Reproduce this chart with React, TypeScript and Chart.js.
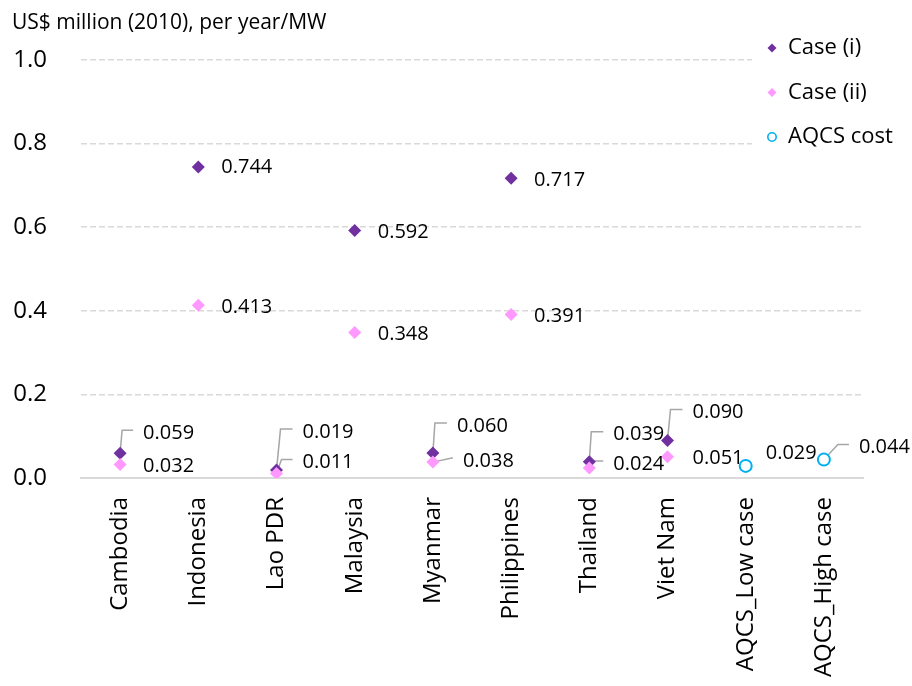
import React, { useEffect, useRef } from 'react';
import { Chart, registerables } from 'chart.js';

Chart.register(...registerables);

const categories = [
  'Cambodia',
  'Indonesia',
  'Lao PDR',
  'Malaysia',
  'Myanmar',
  'Philippines',
  'Thailand',
  'Viet Nam',
  'AQCS_Low case',
  'AQCS_High case',
];
const caseI = [0.059, 0.744, 0.019, 0.592, 0.06, 0.717, 0.039, 0.09, null, null];
const caseII = [0.032, 0.413, 0.011, 0.348, 0.038, 0.391, 0.024, 0.051, null, null];
const aqcsCost = [null, null, null, null, null, null, null, null, 0.029, 0.044];
const yTicks = [0, 0.2, 0.4, 0.6, 0.8, 1.0];
const seriesNames = ['Case (i)', 'Case (ii)', 'AQCS cost'];
const unitTitle = 'US$ million (2010), per year/MW';

// label placement (pixel offsets from the point): [dx, dy, leaderBend | null]
const placeI = [[23, -20, 2], [23, 0, null], [26, -38, 4], [23, 2, null], [24, -27, 2], [23, 2, null], [24, -27, 2], [25, -28, 3], null, null];
const placeII = [[23, 2, null], [23, 2, null], [26, -11, 5], [23, 2, null], [30, -1, 19], [23, 2, null], [24, -4, 2], [25, 2, null], null, null];
const placeAQCS = [null, null, null, null, null, null, null, null, [20, -13, null], [35, -12, 14]];
const placements = [placeI, placeII, placeAQCS];

const FONT = "'Open Sans', 'Noto Sans', sans-serif";
const PURPLE = '#7030A0';
const PINK = '#FF99FF';
const CYAN = '#00B0F0';

const labelPlugin = {
  id: 'valueLabels',
  beforeDatasetsDraw(chart: any) {
    const ctx = chart.ctx;
    ctx.save();
    ctx.strokeStyle = '#a6a6a6';
    ctx.lineWidth = 1.5;
    chart.data.datasets.forEach((ds: any, di: number) => {
      const meta = chart.getDatasetMeta(di);
      ds.data.forEach((v: any, i: number) => {
        const p = placements[di][i];
        if (v == null || !p || p[2] == null) return;
        const el = meta.data[i];
        const px = el.x, py = el.y;
        const lx = px + p[0], ly = py + p[1];
        ctx.beginPath();
        ctx.moveTo(px, py);
        ctx.lineTo(px + (p[2] as number), ly - 3);
        ctx.lineTo(lx - 10, ly - 3);
        ctx.stroke();
      });
    });
    ctx.restore();
  },
  afterDatasetsDraw(chart: any) {
    const ctx = chart.ctx;
    ctx.save();
    ctx.fillStyle = '#000';
    ctx.font = `20px ${FONT}`;
    ctx.textAlign = 'left';
    ctx.textBaseline = 'middle';
    chart.data.datasets.forEach((ds: any, di: number) => {
      const meta = chart.getDatasetMeta(di);
      ds.data.forEach((v: any, i: number) => {
        const p = placements[di][i];
        if (v == null || !p) return;
        const el = meta.data[i];
        ctx.fillText((v as number).toFixed(3), el.x + p[0], el.y + p[1]);
      });
    });
    ctx.restore();
  },
  afterDraw(chart: any) {
    const ctx = chart.ctx;
    ctx.save();
    // unit title
    ctx.fillStyle = '#000';
    ctx.font = `21px ${FONT}`;
    ctx.textAlign = 'left';
    ctx.textBaseline = 'alphabetic';
    ctx.fillText(unitTitle, 12, 29);
    // legend
    ctx.fillStyle = '#fff';
    ctx.fillRect(752, 26, 160, 132);
    const ys = [48, 92.5, 137];
    chart.data.datasets.forEach((ds: any, di: number) => {
      const x = 772, y = ys[di];
      ctx.beginPath();
      if (ds.pointStyle === 'rectRot') {
        const r = 4.5;
        ctx.moveTo(x - r, y);
        ctx.lineTo(x, y - r);
        ctx.lineTo(x + r, y);
        ctx.lineTo(x, y + r);
        ctx.closePath();
        ctx.fillStyle = ds.backgroundColor;
        ctx.fill();
      } else {
        ctx.arc(x, y, 4.2, 0, Math.PI * 2);
        ctx.fillStyle = '#fff';
        ctx.fill();
        ctx.lineWidth = 1.6;
        ctx.strokeStyle = ds.borderColor;
        ctx.stroke();
      }
      ctx.fillStyle = '#000';
      ctx.font = `22px ${FONT}`;
      ctx.textBaseline = 'middle';
      ctx.fillText(ds.label, 788, y);
    });
    ctx.restore();
  },
};

export default function App() {
  const ref = useRef<HTMLCanvasElement | null>(null);
  useEffect(() => {
    document.body.style.margin = '0';
    const chart = new Chart(ref.current as HTMLCanvasElement, {
      type: 'line',
      data: {
        labels: categories,
        datasets: [
          {
            label: seriesNames[0],
            data: caseI,
            showLine: false,
            pointStyle: 'rectRot',
            pointRadius: 6.5,
            backgroundColor: PURPLE,
            borderColor: PURPLE,
            borderWidth: 0,
            order: 1,
          },
          {
            label: seriesNames[1],
            data: caseII,
            showLine: false,
            pointStyle: 'rectRot',
            pointRadius: 6.5,
            backgroundColor: PINK,
            borderColor: PINK,
            borderWidth: 0,
            order: 0,
          },
          {
            label: seriesNames[2],
            data: aqcsCost,
            showLine: false,
            pointStyle: 'circle',
            pointRadius: 6,
            backgroundColor: '#fff',
            borderColor: CYAN,
            pointBorderWidth: 2,
            borderWidth: 2,
            order: 0,
          },
        ] as any,
      },
      options: {
        animation: false,
        responsive: true,
        maintainAspectRatio: false,
        layout: { padding: { top: 60, right: 49, left: 0, bottom: 0 } },
        plugins: { legend: { display: false }, tooltip: { enabled: false } },
        scales: {
          x: {
            type: 'category',
            offset: true,
            grid: { display: false, drawTicks: false },
            border: { display: true, color: '#d9d9d9', width: 2 },
            ticks: {
              autoSkip: false,
              minRotation: 90,
              maxRotation: 90,
              padding: 19,
              color: '#000',
              font: { family: FONT, size: 24 },
            },
            afterFit: (s: any) => {
              s.height = 208;
            },
          },
          y: {
            min: 0,
            max: 1,
            afterBuildTicks: (s: any) => {
              s.ticks = yTicks.map((v) => ({ value: v }));
            },
            ticks: {
              padding: 34,
              color: '#000',
              font: { family: FONT, size: 24 },
              callback: (v: any) => Number(v).toFixed(1),
            },
            grid: {
              drawTicks: false,
              lineWidth: 1.5,
              color: (c: any) => (c.tick && c.tick.value === 0 ? 'rgba(0,0,0,0)' : '#d9d9d9'),
            },
            border: { display: false, dash: [6, 3] },
            afterFit: (s: any) => {
              s.width = 81;
            },
          },
        },
      } as any,
      plugins: [labelPlugin],
    });
    return () => chart.destroy();
  }, []);
  return (
    <div style={{ width: 912, height: 686, position: 'relative' }}>
      <canvas ref={ref} />
    </div>
  );
}
